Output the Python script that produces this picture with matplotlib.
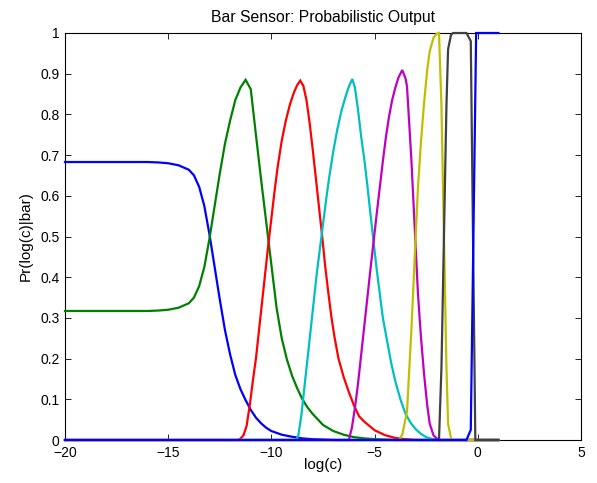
import matplotlib
matplotlib.use("Agg")
import matplotlib.pyplot as plt

plt.rcParams['font.family'] = ['Liberation Sans', 'DejaVu Sans']
plt.rcParams['font.size'] = 10

title = "Bar Sensor: Probabilistic Output"
xlabel = "log(c)"
ylabel = "Pr(log(c)|bar)"
xticks = [-20, -15, -10, -5, 0, 5]
yticks = [0, 0.1, 0.2, 0.3, 0.4, 0.5, 0.6, 0.7, 0.8, 0.9, 1]
ytick_labels = ["0", "0.1", "0.2", "0.3", "0.4", "0.5", "0.6", "0.7", "0.8", "0.9", "1"]

blue1_x = [-20, -16, -15.5, -15, -14.5, -14, -13.75, -13.5, -13.25, -13, -12.75, -12.5,
           -12.25, -12, -11.75, -11.5, -11.25, -11, -10.75, -10.5, -10.25, -10, -9.5,
           -9, -8.5, -8, -7, 1]
blue1_y = [0.683, 0.683, 0.682, 0.680, 0.675, 0.664, 0.650, 0.622, 0.575, 0.505, 0.425,
           0.345, 0.27, 0.21, 0.16, 0.125, 0.098, 0.074, 0.055, 0.041, 0.030, 0.022,
           0.013, 0.008, 0.004, 0.002, 0.0, 0.0]

green_x = [-20, -16, -15.5, -15, -14.5, -14, -13.75, -13.5, -13.25, -13, -12.75, -12.5,
           -12.25, -12, -11.75, -11.5, -11.25, -11, -10.75, -10.5, -10.25, -10, -9.75,
           -9.5, -9.25, -9, -8.75, -8.5, -8.25, -8, -7.5, -7, -6.5, -6, -5.5, -5, -4.5,
           -4, 1]
green_y = [0.317, 0.317, 0.318, 0.320, 0.325, 0.336, 0.350, 0.378, 0.425, 0.495, 0.575,
           0.655, 0.728, 0.785, 0.835, 0.866, 0.885, 0.862, 0.75, 0.64, 0.535, 0.43,
           0.325, 0.25, 0.198, 0.158, 0.127, 0.10, 0.08, 0.064, 0.037, 0.022, 0.013,
           0.007, 0.004, 0.002, 0.001, 0.0, 0.0]

red_x = [-20, -11.6, -11.5, -11.35, -11.2, -11.05, -10.9, -10.75, -10.6, -10.45, -10.3,
         -10.15, -10, -9.85, -9.7, -9.5, -9.3, -9.1, -8.9, -8.75, -8.6, -8.45, -8.3, -8.15,
         -8, -7.85, -7.7, -7.55, -7.4, -7.25, -7.1, -6.95, -6.75, -6.5, -6.25, -6, -5.75,
         -5.5, -5, -4.5, -4, -3.5, -3, 1]
red_y = [0.0, 0.0, 0.003, 0.012, 0.035, 0.085, 0.145, 0.20, 0.27, 0.34, 0.41, 0.48,
         0.545, 0.61, 0.67, 0.735, 0.785, 0.825, 0.855, 0.872, 0.883, 0.87, 0.835, 0.78,
         0.715, 0.645, 0.575, 0.505, 0.43, 0.365, 0.305, 0.255, 0.20, 0.155, 0.118, 0.085,
         0.058, 0.045, 0.024, 0.012, 0.005, 0.002, 0.0, 0.0]

cyan_x = [-20, -8.8, -8.7, -8.55, -8.4, -8.25, -8.1, -7.95, -7.8, -7.65, -7.5, -7.35, -7.2,
          -7.0, -6.8, -6.6, -6.4, -6.25, -6.08, -5.95, -5.8, -5.65, -5.5, -5.35, -5.2,
          -5.05, -4.9, -4.75, -4.6, -4.4, -4.2, -4, -3.75, -3.5, -3.25, -3, -2.75, -2.5,
          -2.25, -2, 1]
cyan_y = [0.0, 0.0, 0.01, 0.06, 0.13, 0.20, 0.27, 0.34, 0.41, 0.47, 0.53, 0.59, 0.645,
          0.71, 0.765, 0.81, 0.845, 0.868, 0.887, 0.865, 0.81, 0.745, 0.69, 0.625, 0.555,
          0.487, 0.42, 0.36, 0.30, 0.245, 0.19, 0.145, 0.10, 0.064, 0.042, 0.026, 0.015,
          0.007, 0.003, 0.0, 0.0]

magenta_x = [-20, -6.25, -6.1, -5.95, -5.8, -5.65, -5.5, -5.35, -5.2, -5.05, -4.9, -4.75,
             -4.6, -4.45, -4.3, -4.15, -4, -3.85, -3.66, -3.5, -3.43, -3.22, -3.06, -2.9,
             -2.75, -2.6, -2.45, -2.33, -2.15, -2.0, -1.8, 1]
magenta_y = [0.0, 0.0, 0.03, 0.08, 0.14, 0.21, 0.28, 0.35, 0.42, 0.487, 0.555, 0.62,
             0.685, 0.745, 0.795, 0.835, 0.865, 0.89, 0.909, 0.888, 0.869, 0.69, 0.525,
             0.36, 0.25, 0.16, 0.085, 0.04, 0.012, 0.004, 0.0, 0.0]

yellow_x = [-20, -3.8, -3.65, -3.43, -3.22, -3.06, -2.9, -2.75, -2.6, -2.45, -2.33, -2.15,
            -2.0, -1.88, -1.76, -1.64, -1.52, -1.44, -1.3, -1.2, 1]
yellow_y = [0.0, 0.0, 0.015, 0.07, 0.268, 0.445, 0.62, 0.735, 0.83, 0.91, 0.955, 0.988,
            0.998, 1.0, 0.82, 0.5, 0.18, 0.04, 0.005, 0.0, 0.0]

gray_x = [-20, -1.88, -1.76, -1.64, -1.52, -1.44, -1.3, -1.2, -0.55, -0.34, -0.12, 1]
gray_y = [0.0, 0.0, 0.18, 0.5, 0.82, 0.96, 0.995, 1.0, 1.0, 0.98, 0.0, 0.0]

blue2_x = [-20, -0.55, -0.34, -0.08, 1]
blue2_y = [0.0, 0.0, 0.025, 1.0, 1.0]

series = [
    (blue1_x, blue1_y, (0, 0, 1)),
    (green_x, green_y, (0, 0.5, 0)),
    (red_x, red_y, (1, 0, 0)),
    (cyan_x, cyan_y, (0, 0.75, 0.75)),
    (magenta_x, magenta_y, (0.75, 0, 0.75)),
    (yellow_x, yellow_y, (0.75, 0.75, 0)),
    (gray_x, gray_y, (0.25, 0.25, 0.25)),
    (blue2_x, blue2_y, (0, 0, 1)),
]

fig = plt.figure(figsize=(5.97, 4.83), dpi=100)
ax = fig.add_axes([65 / 597, 1 - 440 / 483, (581 - 65) / 597, (440 - 33) / 483])

for xs, ys, c in series:
    ax.plot(xs, ys, color=c, linewidth=1.6, solid_joinstyle='miter',
            zorder=3, clip_on=False)

ax.set_xlim(-20, 5)
ax.set_ylim(0, 1)
ax.set_xticks(xticks)
ax.set_yticks(yticks)
ax.set_yticklabels(ytick_labels)
ax.tick_params(direction='in', top=True, right=True, length=4, width=0.6,
               labelsize=10, colors='black', pad=4)
for s in ax.spines.values():
    s.set_linewidth(0.8)
    s.set_color('black')

ax.set_title(title, fontsize=11.3, pad=8)
ax.set_xlabel(xlabel, fontsize=11, labelpad=-1)
ax.set_ylabel(ylabel, fontsize=11, labelpad=5)

fig.savefig("out.png", dpi=100, facecolor='white')
